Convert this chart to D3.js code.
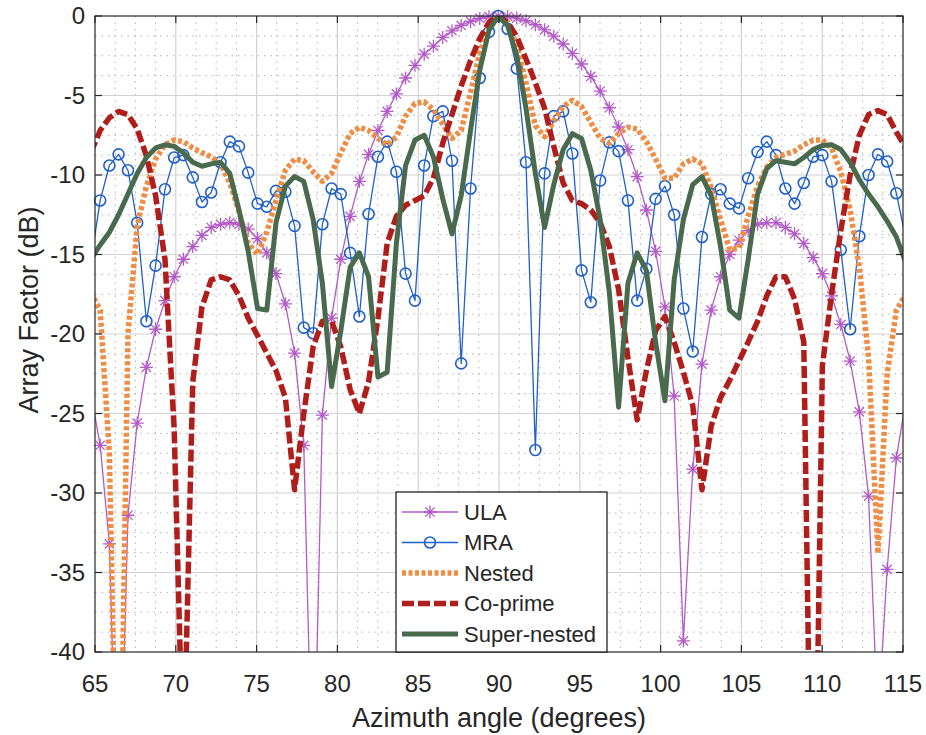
<!DOCTYPE html>
<html>
<head>
<meta charset="utf-8">
<script src="https://cdn.jsdelivr.net/npm/d3@7"></script>
<style>
  body { margin: 0; background: #fff; }
  svg { display: block; font-family: "Liberation Sans", Arial, Helvetica, sans-serif; }
</style>
</head>
<body>
<script>
// azimuth samples (degrees), one every 0.01 rad
const angles = [
  64.74, 65.32, 65.89, 66.46, 67.04, 67.61, 68.18, 68.75, 69.33, 69.90,
  70.47, 71.05, 71.62, 72.19, 72.77, 73.34, 73.91, 74.48, 75.06, 75.63,
  76.20, 76.78, 77.35, 77.92, 78.50, 79.07, 79.64, 80.21, 80.79, 81.36,
  81.93, 82.51, 83.08, 83.65, 84.22, 84.80, 85.37, 85.94, 86.52, 87.09,
  87.66, 88.24, 88.81, 89.38, 89.95, 90.53, 91.10, 91.67, 92.25, 92.82,
  93.39, 93.97, 94.54, 95.11, 95.68, 96.26, 96.83, 97.40, 97.98, 98.55,
  99.12, 99.69, 100.27, 100.84, 101.41, 101.99, 102.56, 103.13, 103.71, 104.28,
  104.85, 105.42, 106.00, 106.57, 107.14, 107.72, 108.29, 108.86, 109.44, 110.01,
  110.58, 111.15, 111.73, 112.30, 112.87, 113.45, 114.02, 114.59, 115.17
];

const ula = [
  -23.7, -27.0, -33.2, -53.6, -31.4, -25.6, -22.1, -19.7, -17.9, -16.4,
  -15.3, -14.5, -13.8, -13.3, -13.1, -13.0, -13.1, -13.4, -14.0, -14.9,
  -16.2, -18.1, -21.2, -27.0, -50.9, -25.1, -19.0, -15.3, -12.6, -10.4,
  -8.7, -7.2, -6.0, -4.9, -3.9, -3.1, -2.4, -1.9, -1.35, -0.93,
  -0.59, -0.34, -0.15, -0.04, 0, -0.03, -0.13, -0.30, -0.55, -0.87,
  -1.27, -1.76, -2.35, -3.02, -3.80, -4.72, -5.77, -6.98, -8.41, -10.1,
  -12.2, -14.8, -18.3, -23.9, -39.3, -28.5, -21.9, -18.5, -16.4, -15.0,
  -14.1, -13.5, -13.1, -13.0, -13.0, -13.3, -13.7, -14.3, -15.2, -16.2,
  -17.6, -19.4, -21.7, -24.9, -30.2, -44.5, -34.8, -27.8, -24.2
];

const mra = [
  -15.5, -11.6, -9.4, -8.7, -9.7, -13.0, -19.2, -15.7, -10.9, -8.9,
  -8.75, -10.15, -11.7, -11.1, -9.2, -7.9, -8.2, -9.85, -11.8, -12.0,
  -11.0, -11.05, -13.2, -19.6, -19.95, -13.1, -10.85, -11.2, -14.9, -18.9,
  -12.45, -8.85, -7.9, -9.8, -16.2, -17.9, -9.4, -6.3, -6.0, -9.1,
  -21.85, -10.85, -3.9, -1.0, 0, -0.8, -3.3, -9.2, -27.3, -9.9,
  -6.3, -6.0, -8.65, -16.0, -18.0, -10.35, -7.95, -8.5, -11.6, -17.9,
  -15.9, -11.5, -10.7, -12.5, -18.4, -21.1, -13.9, -11.2, -10.9, -11.8,
  -12.1, -10.2, -8.55, -7.9, -8.75, -10.85, -11.8, -10.5, -8.85, -8.75,
  -10.4, -14.7, -19.7, -13.85, -10.0, -8.7, -9.15, -11.15, -14.0
];

const nested = [
  -17.4, -18.5, -27.5, -57.0, -20.0, -13.2, -10.7, -9.0, -8.1, -7.8,
  -7.9, -8.3, -8.6, -8.85, -9.3, -10.5, -12.3, -14.3, -15.0, -13.6,
  -11.6, -9.7, -9.0, -9.1, -9.8, -10.4, -9.9, -8.6, -7.4, -7.0,
  -7.2, -7.7, -8.1, -7.6, -6.3, -5.5, -5.4, -5.9, -6.8, -7.7,
  -7.2, -4.8, -2.3, -0.6, 0, -0.4, -1.8, -4.2, -6.9, -7.6,
  -6.6, -5.7, -5.3, -5.7, -6.7, -7.7, -8.0, -7.4, -7.0, -7.1,
  -7.9, -9.0, -10.2, -10.2, -9.3, -9.0, -9.3, -10.8, -12.8, -14.7,
  -14.6, -12.6, -10.7, -9.5, -8.9, -8.7, -8.5, -8.1, -7.8, -7.8,
  -8.3, -9.8, -12.2, -15.8, -21.5, -33.8, -22.5, -18.5, -17.5
];

const coprime = [
  -8.6, -7.2, -6.4, -6.0, -6.2, -7.1, -8.8, -11.3, -15.3, -26.0,
  -47.7, -23.0, -18.3, -16.6, -16.4, -16.6, -17.6, -19.0, -20.1, -21.2,
  -22.3, -24.0, -29.8, -25.0, -20.8, -19.2, -19.2, -20.8, -23.5, -25.0,
  -23.0, -19.0, -14.3, -12.6, -11.9, -11.6, -11.3, -10.2, -8.0, -6.2,
  -4.4, -2.8, -1.4, -0.4, 0, -0.4, -1.3, -2.7, -4.2, -5.8,
  -8.2, -10.5, -11.6, -11.8, -12.2, -13.0, -14.5, -17.2, -21.5, -25.4,
  -22.3, -19.8, -18.9, -20.5, -22.4, -24.5, -29.8, -25.8, -24.0, -22.9,
  -21.7, -20.5, -19.2, -17.6, -16.4, -16.4, -17.8, -20.5, -60.0, -22.0,
  -17.5, -13.5, -10.0, -7.5, -6.2, -5.95, -6.2, -7.3, -8.3
];

const superNested = [
  -15.3, -14.4, -13.6, -12.5, -11.2, -9.9, -8.9, -8.3, -8.1, -8.2,
  -8.6, -9.2, -9.45, -9.3, -9.2, -9.9, -12.2, -14.8, -18.4, -18.5,
  -13.0, -10.7, -10.1, -10.4, -12.8, -16.8, -23.3, -19.8, -15.8, -14.9,
  -16.4, -22.7, -22.4, -14.3, -9.4, -7.8, -7.5, -8.85, -11.5, -13.7,
  -11.3, -7.2, -3.4, -0.9, 0, -0.6, -2.5, -5.8, -9.9, -13.3,
  -10.6, -8.4, -7.4, -7.7, -9.7, -12.8, -17.4, -24.6, -16.8, -14.9,
  -16.0, -20.5, -24.2, -16.6, -12.8, -10.6, -10.1, -11.3, -14.5, -18.5,
  -19.0, -15.3, -11.2, -9.6, -9.1, -9.2, -9.3, -8.9, -8.4, -8.15,
  -8.1, -8.4, -9.2, -10.3, -11.2, -12.0, -12.9, -13.9, -15.5
];

const xTicks = [65, 70, 75, 80, 85, 90, 95, 100, 105, 110, 115];
const yTicks = [0, -5, -10, -15, -20, -25, -30, -35, -40];
const seriesNames = ['ULA', 'MRA', 'Nested', 'Co-prime', 'Super-nested'];

const width = 926, height = 735;
const plot = { left: 95, top: 16, right: 903, bottom: 652 };
const textColor = '#262626';

const svg = d3.select('body').append('svg')
  .attr('width', width)
  .attr('height', height);

const x = d3.scaleLinear().domain([65, 115]).range([plot.left, plot.right]);
const y = d3.scaleLinear().domain([-40, 0]).range([plot.bottom, plot.top]);

svg.append('defs').append('clipPath').attr('id', 'plot-clip')
  .append('rect')
  .attr('x', plot.left).attr('y', plot.top)
  .attr('width', plot.right - plot.left).attr('height', plot.bottom - plot.top);

// grid: dotted minor every 1.25, solid major every 5
const xMinor = d3.range(65, 115.01, 1.25).filter(v => v % 5 !== 0);
const yMinor = d3.range(-40, 0.01, 1.25).filter(v => v % 5 !== 0);
const grid = svg.append('g');

grid.selectAll('.xminor').data(xMinor).enter().append('line')
  .attr('x1', d => x(d)).attr('x2', d => x(d))
  .attr('y1', plot.top).attr('y2', plot.bottom)
  .attr('stroke', '#b4b4b4').attr('stroke-width', 1).attr('stroke-dasharray', '1.5,5');
grid.selectAll('.yminor').data(yMinor).enter().append('line')
  .attr('x1', plot.left).attr('x2', plot.right)
  .attr('y1', d => y(d)).attr('y2', d => y(d))
  .attr('stroke', '#b4b4b4').attr('stroke-width', 1).attr('stroke-dasharray', '1.5,5');
grid.selectAll('.xmajor').data(xTicks.slice(1, -1)).enter().append('line')
  .attr('x1', d => x(d)).attr('x2', d => x(d))
  .attr('y1', plot.top).attr('y2', plot.bottom)
  .attr('stroke', '#d2d2d2').attr('stroke-width', 1.2);
grid.selectAll('.ymajor').data(yTicks.slice(1, -1)).enter().append('line')
  .attr('x1', plot.left).attr('x2', plot.right)
  .attr('y1', d => y(d)).attr('y2', d => y(d))
  .attr('stroke', '#d2d2d2').attr('stroke-width', 1.2);

// series
const series = [
  { name: 'ULA', values: ula, color: '#b45ac8', width: 1.3, dash: null, marker: 'star' },
  { name: 'MRA', values: mra, color: '#2060c8', width: 1.3, dash: null, marker: 'circle' },
  { name: 'Nested', values: nested, color: '#ef8d44', width: 5.5, dash: '4,2.5', marker: null },
  { name: 'Co-prime', values: coprime, color: '#b01e1c', width: 5.5, dash: '12,4', marker: null },
  { name: 'Super-nested', values: superNested, color: '#4a6a4e', width: 5, dash: null, marker: null }
];

const starPath = 'M-6.5,0H6.5M0,-6.5V6.5M-4.6,-4.6L4.6,4.6M-4.6,4.6L4.6,-4.6';

function drawMarker(sel, kind, color) {
  if (kind === 'star') {
    sel.append('path').attr('d', starPath)
      .attr('fill', 'none').attr('stroke', color).attr('stroke-width', 1.3);
  } else if (kind === 'circle') {
    sel.append('circle').attr('r', 5.5)
      .attr('fill', 'none').attr('stroke', color).attr('stroke-width', 1.6);
  }
}

const line = d3.line()
  .x(d => x(d[0]))
  .y(d => y(d[1]));

const marks = svg.append('g');
series.forEach(s => {
  const pts = angles.map((a, i) => [a, s.values[i]]);
  marks.append('path')
    .datum(pts)
    .attr('clip-path', 'url(#plot-clip)')
    .attr('d', line)
    .attr('fill', 'none')
    .attr('stroke', s.color)
    .attr('stroke-width', s.width)
    .attr('stroke-dasharray', s.dash)
    .attr('stroke-linejoin', 'round');

  if (s.marker) {
    const inside = pts.filter(p => p[0] >= 65 && p[0] <= 115 && p[1] >= -40);
    marks.append('g').selectAll('g')
      .data(inside)
      .enter().append('g')
      .attr('transform', p => `translate(${x(p[0])},${y(p[1])})`)
      .each(function () { drawMarker(d3.select(this), s.marker, s.color); });
  }
});

// axes box with inward ticks
const axes = svg.append('g').attr('stroke', textColor).attr('stroke-width', 1.2);
axes.append('rect')
  .attr('x', plot.left).attr('y', plot.top)
  .attr('width', plot.right - plot.left).attr('height', plot.bottom - plot.top)
  .attr('fill', 'none');
const tickLen = 7;
xTicks.forEach(t => {
  axes.append('line').attr('x1', x(t)).attr('x2', x(t)).attr('y1', plot.bottom).attr('y2', plot.bottom - tickLen);
  axes.append('line').attr('x1', x(t)).attr('x2', x(t)).attr('y1', plot.top).attr('y2', plot.top + tickLen);
});
yTicks.forEach(t => {
  axes.append('line').attr('x1', plot.left).attr('x2', plot.left + tickLen).attr('y1', y(t)).attr('y2', y(t));
  axes.append('line').attr('x1', plot.right).attr('x2', plot.right - tickLen).attr('y1', y(t)).attr('y2', y(t));
});

// tick labels
svg.append('g').selectAll('text')
  .data(xTicks).enter().append('text')
  .attr('x', d => x(d)).attr('y', 692)
  .attr('text-anchor', 'middle')
  .attr('font-size', 24).attr('fill', textColor)
  .text(d => d);
svg.append('g').selectAll('text')
  .data(yTicks).enter().append('text')
  .attr('x', 85).attr('y', d => y(d))
  .attr('dy', '0.35em')
  .attr('text-anchor', 'end')
  .attr('font-size', 24).attr('fill', textColor)
  .text(d => d);

// axis titles
svg.append('text')
  .attr('x', (plot.left + plot.right) / 2).attr('y', 727)
  .attr('text-anchor', 'middle')
  .attr('font-size', 27).attr('fill', textColor)
  .text('Azimuth angle (degrees)');
svg.append('text')
  .attr('transform', `translate(38,${(plot.top + plot.bottom) / 2 - 24}) rotate(-90)`)
  .attr('text-anchor', 'middle')
  .attr('font-size', 27).attr('fill', textColor)
  .text('Array Factor (dB)');

// legend
const legend = svg.append('g');
legend.append('rect')
  .attr('x', 396).attr('y', 492).attr('width', 211).attr('height', 160)
  .attr('fill', '#fff').attr('stroke', '#111').attr('stroke-width', 1.2);
series.forEach((s, i) => {
  const ly = 512 + i * 30.5;
  legend.append('line')
    .attr('x1', 402).attr('x2', 458).attr('y1', ly).attr('y2', ly)
    .attr('stroke', s.color)
    .attr('stroke-width', s.width)
    .attr('stroke-dasharray', s.dash);
  if (s.marker) {
    drawMarker(legend.append('g').attr('transform', `translate(430,${ly})`), s.marker, s.color);
  }
  legend.append('text')
    .attr('x', 464).attr('y', ly).attr('dy', '0.35em')
    .attr('font-size', 22).attr('fill', textColor)
    .text(seriesNames[i]);
});
</script>
</body>
</html>
